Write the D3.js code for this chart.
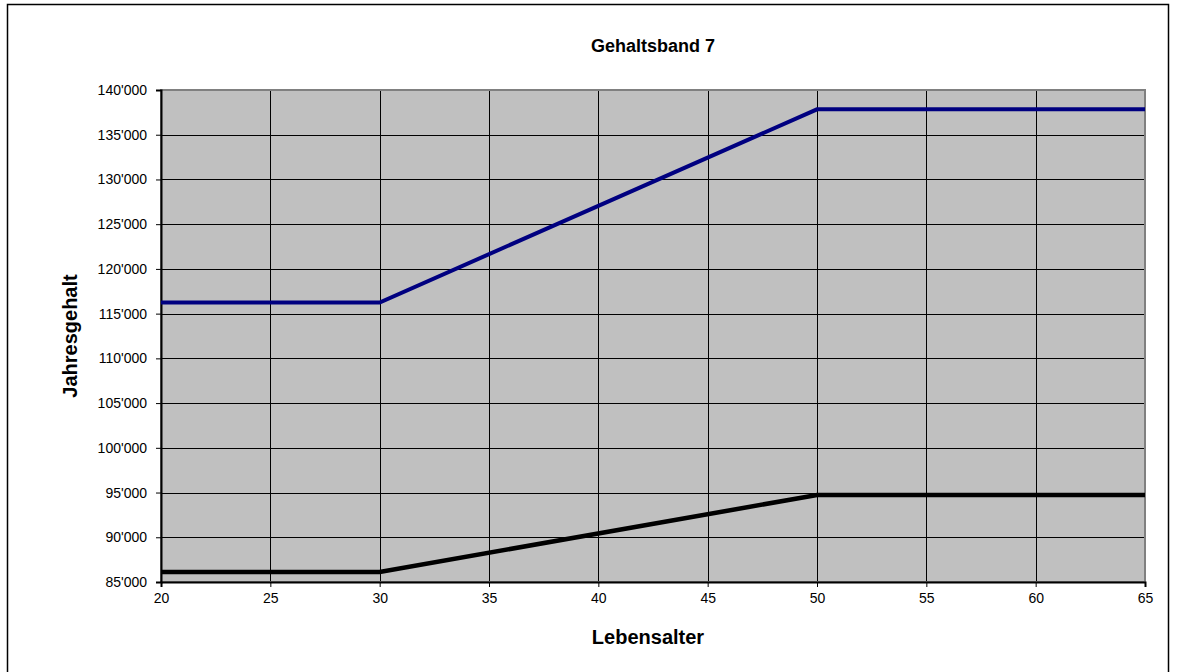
<!DOCTYPE html>
<html lang="de">
<head>
    <meta charset="UTF-8">
    <title>Gehaltsband 7</title>
    <script src="https://d3js.org/d3.v7.min.js"></script>
    <style>
        body { margin: 0; background: #fff; }
        text { font-family: Arial, "Liberation Sans", sans-serif; }
    </style>
</head>
<body>
    <div id="chart"></div>
    <script>
        // Alter (x) und Jahresgehalt (y) fuer beide Linien
        var alter = [20, 30, 50, 65];
        var maxGehalt = [116250, 116250, 137840, 137840];
        var minGehalt = [86120, 86120, 94730, 94730];
        var xTicks = [20, 25, 30, 35, 40, 45, 50, 55, 60, 65];
        var yTicks = [85000, 90000, 95000, 100000, 105000, 110000, 115000, 120000, 125000, 130000, 135000, 140000];

        var W = 1178, H = 672;
        var margin = { top: 90, right: 33, bottom: 90, left: 161 };
        var width = W - margin.left - margin.right;
        var height = H - margin.top - margin.bottom;

        var svg = d3.select("#chart")
            .append("svg")
            .attr("width", W)
            .attr("height", H);

        // Rahmen
        svg.append("rect")
            .attr("x", 7.5).attr("y", 4.5)
            .attr("width", 1161).attr("height", 700)
            .attr("fill", "white")
            .attr("stroke", "black")
            .attr("stroke-width", 1.5);

        var g = svg.append("g")
            .attr("transform", "translate(" + margin.left + "," + margin.top + ")");

        var x = d3.scaleLinear().domain([20, 65]).range([0, width]);
        var y = d3.scaleLinear().domain([85000, 140000]).range([height, 0]);

        g.append("rect")
            .attr("width", width).attr("height", height)
            .attr("fill", "#c0c0c0");

        // Gitter
        g.selectAll(".vgrid").data(xTicks.slice(1, -1)).enter()
            .append("line")
            .attr("x1", function (d) { return Math.round(x(d)) + 0.5; })
            .attr("x2", function (d) { return Math.round(x(d)) + 0.5; })
            .attr("y1", 0).attr("y2", height)
            .attr("stroke", "black").attr("stroke-width", 1);
        g.selectAll(".hgrid").data(yTicks.slice(1, -1)).enter()
            .append("line")
            .attr("y1", function (d) { return Math.round(y(d)) + 0.5; })
            .attr("y2", function (d) { return Math.round(y(d)) + 0.5; })
            .attr("x1", 0).attr("x2", width)
            .attr("stroke", "black").attr("stroke-width", 1);

        g.append("rect")
            .attr("width", width).attr("height", height)
            .attr("fill", "none")
            .attr("stroke", "#808080").attr("stroke-width", 2);

        var fmt = function (d) { return d3.format(",")(d).replace(/,/g, "'"); };

        var xAxis = g.append("g")
            .attr("transform", "translate(0," + height + ")")
            .call(d3.axisBottom(x).tickValues(xTicks).tickSize(5).tickPadding(6));
        var yAxis = g.append("g")
            .call(d3.axisLeft(y).tickValues(yTicks).tickFormat(fmt).tickSize(5).tickPadding(9));

        [xAxis, yAxis].forEach(function (a) {
            a.select(".domain").attr("stroke", "black").attr("stroke-width", 2);
            a.selectAll(".tick line").attr("stroke", "black");
            a.selectAll(".tick text")
                .style("font-family", "Arial, 'Liberation Sans', sans-serif")
                .style("font-size", "14px")
                .attr("fill", "black");
        });

        var line = d3.line()
            .x(function (d, i) { return x(alter[i]); })
            .y(function (d) { return y(d); });

        g.append("path")
            .datum(maxGehalt)
            .attr("d", line)
            .attr("fill", "none")
            .attr("stroke", "#000080")
            .attr("stroke-width", 4);

        g.append("path")
            .datum(minGehalt)
            .attr("d", line)
            .attr("fill", "none")
            .attr("stroke", "black")
            .attr("stroke-width", 4.5);

        svg.append("text")
            .attr("x", 653).attr("y", 52)
            .attr("text-anchor", "middle")
            .style("font-size", "18px")
            .style("font-weight", "bold")
            .text("Gehaltsband 7");

        svg.append("text")
            .attr("x", 648).attr("y", 644)
            .attr("text-anchor", "middle")
            .style("font-size", "20px")
            .style("font-weight", "bold")
            .text("Lebensalter");

        svg.append("text")
            .attr("transform", "translate(77," + (margin.top + height / 2) + ") rotate(-90)")
            .attr("text-anchor", "middle")
            .style("font-size", "20px")
            .style("font-weight", "bold")
            .text("Jahresgehalt");
    </script>
</body>
</html>
